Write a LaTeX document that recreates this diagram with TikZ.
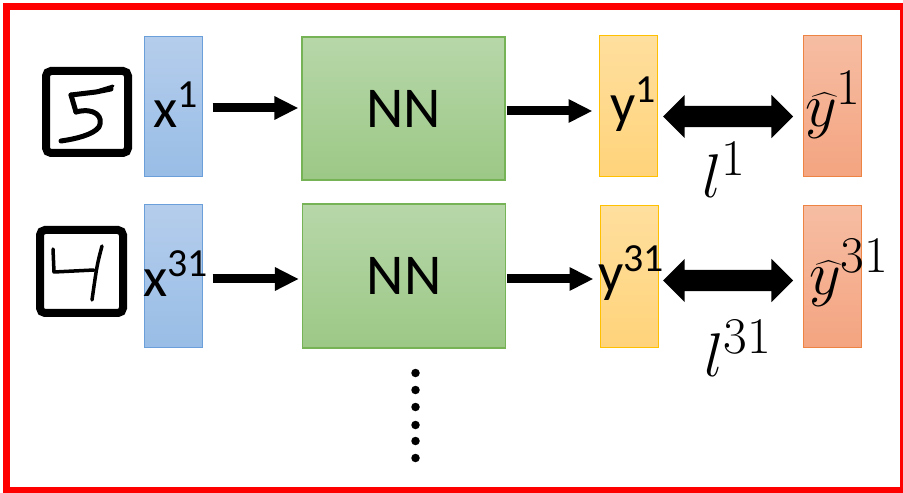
\documentclass[tikz,border=0pt]{standalone}
\usepackage{graphicx}
\usepackage{fontspec}
\setmainfont{Carlito}
\usetikzlibrary{arrows.meta,shapes.arrows}
\definecolor{bluetop}{HTML}{B5CDEC}
\definecolor{bluebot}{HTML}{98BDE6}
\definecolor{blueedge}{HTML}{6A9FD9}
\definecolor{greentop}{HTML}{B7D7A9}
\definecolor{greenbot}{HTML}{9CC886}
\definecolor{greenedge}{HTML}{76B256}
\definecolor{yeltop}{HTML}{FFDF9E}
\definecolor{yelbot}{HTML}{FFD37A}
\definecolor{yeledge}{HTML}{FFC000}
\definecolor{ortop}{HTML}{F6BDA3}
\definecolor{orbot}{HTML}{F4A480}
\definecolor{oredge}{HTML}{EE8444}
\newcommand{\ssup}[1]{\raisebox{20bp}{\fontsize{40}{40}\selectfont #1}}
\newcommand{\bigmath}[1]{\scalebox{2.49}{\Huge$#1$}}
\tikzset{
  slab/.style={rectangle, inner sep=0pt, minimum width=58bp, line width=1bp},
  inbox/.style={slab, top color=bluetop, bottom color=bluebot, draw=blueedge},
  nnbox/.style={rectangle, inner sep=0pt, minimum width=203bp, line width=1.2bp,
    top color=greentop, bottom color=greenbot, draw=greenedge,
    font=\fontsize{58}{58}\selectfont},
  outbox/.style={slab, top color=yeltop, bottom color=yelbot, draw=yeledge},
  tgtbox/.style={slab, top color=ortop, bottom color=orbot, draw=oredge},
  lbl/.style={inner sep=0pt, anchor=base west, font=\fontsize{56}{56}\selectfont},
  mlbl/.style={inner sep=0pt, anchor=base west},
  fwd/.style={line width=9bp, -{Triangle[length=24bp,width=22bp]}},
  dbl/.style={double arrow, fill=black, inner xsep=0pt, inner ysep=10.5bp,
    double arrow head extend=11bp, minimum height=130bp, double arrow tip angle=90},
  digitframe/.style={draw=black, line width=8bp, rounded corners=5bp},
  pen/.style={line width=5bp, line cap=round, line join=round},
  dotmark/.style={circle, fill=black, inner sep=0pt, minimum size=8.5bp}
}
\begin{document}
\begin{tikzpicture}[x=1bp, y=-1bp]
\clip (0,0) rectangle (903,493);
% frame
\draw[red, line width=7bp] (6.5,6.5) rectangle (903.5,490.5);

% ---- row 1 ----
\draw[digitframe] (46,71) rectangle (128,153);
\draw[pen] (71,95) -- (96,92) -- (111,89);
\draw[pen, line width=3bp] (100,90) -- (113,86);
\draw[pen] (71,95) -- (76,112);
\draw[pen] (76,112) .. controls (95,107) and (104,117) .. (99,127) .. controls (93,135) and (75,139) .. (61,141);

\node[inbox, minimum height=140bp] (x1) at (173,107) {};
\node[nnbox, minimum height=143bp] (nn1) at (403.5,108.5) {NN};
\node[outbox, minimum height=141bp] (y1) at (628,106.5) {};
\node[tgtbox, minimum height=141bp] (t1) at (832,106.5) {};

\node[lbl] (lx1) at (153,128) {x\ssup{1}};
\node[lbl] (ly1) at (610,123) {y\ssup{1}};
\node[mlbl] (lt1) at (805,127) {\bigmath{\widehat{y}^{1}}};
\node[mlbl] (ll1) at (702,198) {\bigmath{l^{1}}};

\draw[fwd, shorten <=10bp, shorten >=3bp] ([yshift=-1bp]x1.east) -- ([yshift=-1bp]x1.east -| nn1.west);
\draw[fwd, shorten <=1bp, shorten >=6bp] ([yshift=-2.5bp]nn1.east) -- ([yshift=-2.5bp]nn1.east -| y1.west);
\node[dbl] (d1) at (728,116.5) {};

% ---- row 2 ----
\draw[digitframe] (40,230) rectangle (123,313);
\draw[pen, line width=3.5bp] (53,249) -- (54,272) -- (94,270);
\draw[pen, line width=3.5bp] (102,246) .. controls (97,265) .. (92,300);

\node[inbox, minimum height=142bp] (x2) at (173,276) {};
\node[nnbox, minimum height=144bp] (nn2) at (404,276) {NN};
\node[outbox, minimum height=141bp] (y2) at (629,276.5) {};
\node[tgtbox, minimum height=141bp] (t2) at (832,276.5) {};

\node[lbl] (lx2) at (143,297) {x\ssup{31}};
\node[lbl] (ly2) at (598,292) {y\ssup{31}};
\node[mlbl] (lt2) at (809,295) {\bigmath{\widehat{y}^{31}}};
\node[mlbl] (ll2) at (704,376) {\bigmath{l^{31}}};

\draw[fwd, shorten <=10bp, shorten >=3bp] ([yshift=-3bp]x2.east) -- ([yshift=-3bp]x2.east -| nn2.west);
\draw[fwd, shorten <=1bp, shorten >=6bp] ([yshift=-3bp]nn2.east) -- ([yshift=-3bp]nn2.east -| y2.west);
\node[dbl] (d2) at (728,280.5) {};

% ---- dots ----
\foreach \yy [count=\i] in {373,390,407,425,441,458}
  \node[dotmark] (dot\i) at (415.5,\yy) {};
\end{tikzpicture}
\end{document}
